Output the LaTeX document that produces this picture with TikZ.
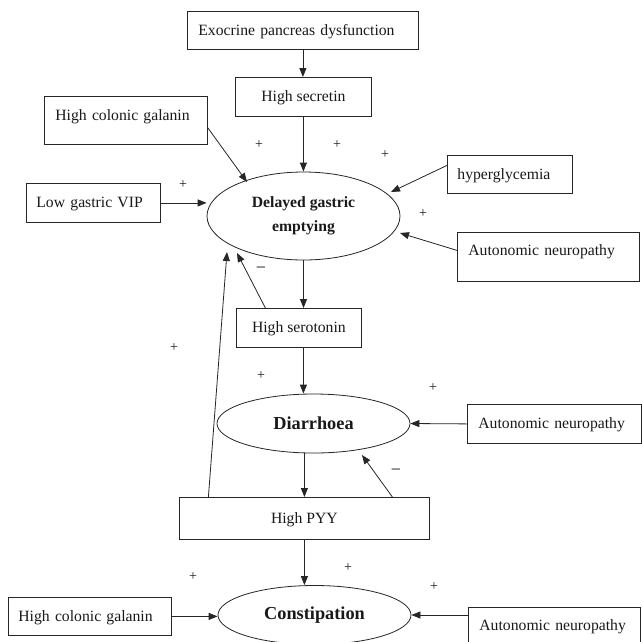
\documentclass[tikz,border=0pt]{standalone}
\usepackage{fontspec}
\setmainfont{Liberation Serif}
\usetikzlibrary{arrows.meta,shapes.geometric}
\tikzset{
  box/.style={draw=black!85, line width=0.8pt, rectangle, anchor=north west,
    text=black!90, font=\fontsize{15.7}{18}\selectfont, text height=11pt, text depth=1pt, inner ysep=2pt},
  lbox/.style={box, align=left},
  cbox/.style={box, align=center, inner xsep=2pt},
  oval/.style={draw=black!85, line width=0.8pt, ellipse, inner sep=0pt, minimum width=193pt,
    text=black!90, align=center},
  arr/.style={draw=black!85, line width=0.8pt, -{Triangle[length=9pt,width=7pt]}},
  sign/.style={text=black!90, font=\fontsize{14}{14}\selectfont, inner sep=0pt},
}
\begin{document}
\begin{tikzpicture}[x=1pt,y=-1pt]
\useasboundingbox[fill=white] (0,0) rectangle (642,641);
% boxes
\node[lbox, inner xsep=11pt, text width=209pt, minimum height=38pt] (exo) at (187,11) {Exocrine pancreas dysfunction};
\node[cbox, minimum width=136pt, minimum height=39pt] (sec) at (235,77) {High secretin};
\node[lbox, inner xsep=11pt, text width=141pt, minimum height=48pt, text depth=11pt] (gal1) at (44,96) {High colonic galanin};
\node[lbox, inner xsep=10pt, text width=114pt, minimum height=39pt] (vip) at (26,183) {Low gastric VIP};
\node[lbox, inner xsep=10pt, text width=105pt, minimum height=38pt] (hyp) at (447,155) {hyperglycemia};
\node[lbox, inner xsep=11pt, text width=160pt, minimum height=49pt, text depth=14pt] (aut1) at (457,232) {Autonomic neuropathy};
\node[cbox, minimum width=125pt, minimum height=39pt] (ser) at (236,308) {High serotonin};
\node[lbox, inner xsep=11pt, text width=152pt, minimum height=39pt] (aut2) at (467,404) {Autonomic neuropathy};
\node[cbox, minimum width=250pt, minimum height=42pt] (pyy) at (179,497) {High PYY};
\node[lbox, inner xsep=10pt, text width=143pt, minimum height=38pt] (gal2) at (8,597) {High colonic galanin};
\node[lbox, inner xsep=11pt, text width=150pt, minimum height=36pt] (aut3) at (468,607) {Autonomic neuropathy};
% ellipses
\node[oval, minimum height=88pt, font=\fontsize{15.7}{24}\selectfont\bfseries] (dge) at (303.5,216) {Delayed gastric\\emptying};
\node[oval, minimum height=59pt, font=\fontsize{18.3}{20}\selectfont\bfseries] (dia) at (313.5,423.5) {Diarrhoea};
\node[oval, minimum height=59pt, font=\fontsize{18.3}{20}\selectfont\bfseries] (con) at (314.5,615) {Constipation};
% connectors
\draw[arr] (exo.south) -- (exo.south |- sec.north);
\draw[arr] (sec.south) -- (sec.south |- dge.north);
\draw[arr] ([yshift=17pt]gal1.south east) -- ([shift={(-56.5,-34)}]dge.center);
\draw[arr] (vip.east) -- (vip.east -| dge.west);
\draw[arr] ([yshift=9pt]hyp.west) -- ([shift={(87.5,-24)}]dge.center);
\draw[arr] ([yshift=6.5pt]aut1.west) -- ([shift={(96.5,17)}]dge.center);
\draw[arr] (dge.south) -- (dge.south |- ser.north);
\draw[arr] ([xshift=-33.5pt]ser.north) -- ([shift={(-66.5,37)}]dge.center);
\draw[arr] ([xshift=-96pt]pyy.north) -- ([shift={(-76.5,36)}]dge.center);
\draw[arr] ([xshift=4.5pt]ser.south) -- ([xshift=4.5pt]ser.south |- dia.north);
\draw[arr] (pyy.north |- dia.south) -- (pyy.north);
\draw[arr] ([xshift=88pt]pyy.north) -- ([shift={(48.5,31.5)}]dia.center);
\draw[arr] (aut2.west) -- (dia.east);
\draw[arr] (pyy.south) -- (pyy.south |- con.north);
\draw[arr] (gal2.east) -- (gal2.east -| con.west);
\draw[arr] (aut3.west |- con.east) -- (con.east);
% signs
\node[sign] (p1) at (259,145) {+};
\node[sign] (p2) at (337,145) {+};
\node[sign] (p3) at (385,155) {+};
\node[sign] (p4) at (183,185) {+};
\node[sign] (p5) at (423,214) {+};
\node[sign] (p6) at (174,348) {+};
\node[sign] (p7) at (261,376) {+};
\node[sign] (p8) at (433,388) {+};
\node[sign] (p9) at (193,577) {+};
\node[sign] (p10) at (348,568) {+};
\node[sign] (p11) at (434,587) {+};
\node[sign, font=\fontsize{18}{18}\selectfont] (m1) at (261,270) {−};
\node[sign, font=\fontsize{18}{18}\selectfont] (m2) at (396,472) {−};
\end{tikzpicture}
\end{document}
